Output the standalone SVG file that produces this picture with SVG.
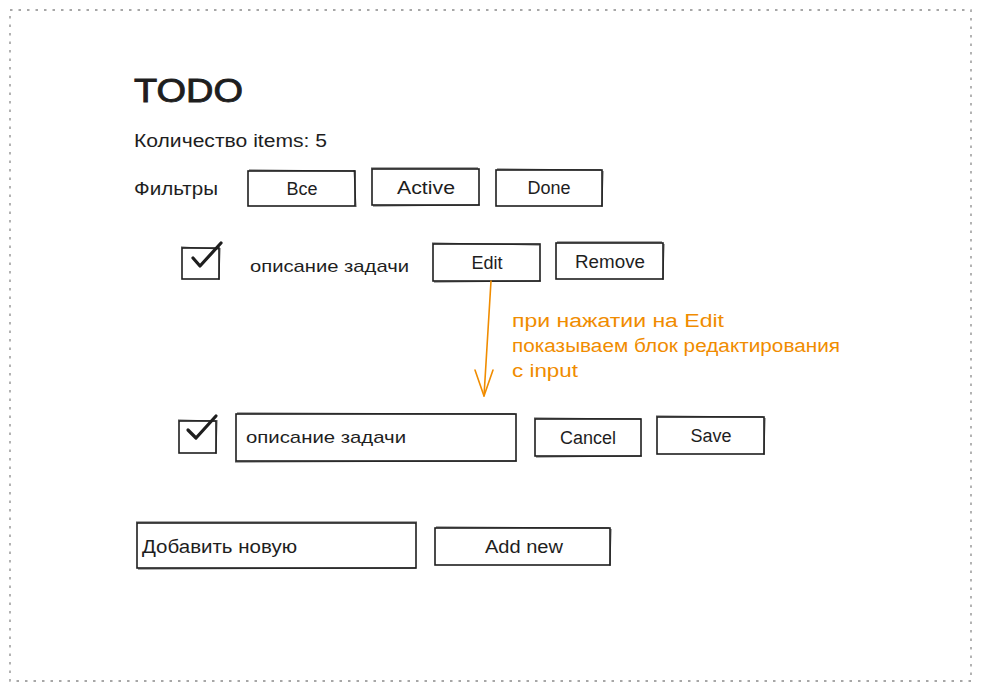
<svg xmlns="http://www.w3.org/2000/svg" width="981" height="691" viewBox="0 0 981 691">
<defs>
<style>
.box{fill:#ffffff;stroke:#1e1e1e;stroke-width:1.6;}
.box2{fill:none;stroke:#1e1e1e;stroke-width:0.8;}
.t{font-family:"Liberation Sans","Noto Sans",sans-serif;fill:#1e1e1e;font-size:18px;}
.c{text-anchor:middle;}
.o{fill:#f08c00;font-size:18px;}
.chk{fill:none;stroke:#1e1e1e;stroke-width:3.2;stroke-linecap:round;stroke-linejoin:round;}
.arr{fill:none;stroke:#f08c00;stroke-width:1.6;stroke-linecap:round;stroke-linejoin:round;}
</style>
</defs>
<rect x="0" y="0" width="981" height="691" fill="#ffffff"/>
<rect x="10" y="10" width="961" height="671" fill="none" stroke="#8a8a8a" stroke-width="1.3" stroke-dasharray="2.5 6"/>

<g id="title"><text class="t" x="134" y="102" style="font-size:33px;stroke:#1e1e1e;stroke-width:0.9" textLength="109" lengthAdjust="spacingAndGlyphs">TODO</text></g>
<g id="count"><text class="t" x="134" y="147" textLength="193" lengthAdjust="spacingAndGlyphs">Количество items: 5</text></g>
<g id="filters-label"><text class="t" x="134" y="195" textLength="84" lengthAdjust="spacingAndGlyphs">Фильтры</text></g>

<g id="btn-all"><rect class="box" x="248" y="171" width="107" height="35"/><path class="box2" d="M249 170 L355 171 M354 170 L356 207"/><text class="t c" x="302" y="195">Все</text></g>
<g id="btn-active"><rect class="box" x="372" y="169" width="107" height="36"/><path class="box2" d="M371 168 L478 168 M373 206 L480 205"/><text class="t c" x="426" y="194" textLength="58" lengthAdjust="spacingAndGlyphs">Active</text></g>
<g id="btn-done"><rect class="box" x="496" y="170" width="106" height="36"/><path class="box2" d="M497 169 L601 170 M603 171 L602 207"/><text class="t c" x="549" y="194">Done</text></g>

<g id="item-checkbox"><rect class="box" x="182" y="248" width="37" height="31"/><path class="box2" d="M181 247 L219 249 M220 248 L219 280"/><path class="chk" d="M193 258 L200 266 L221 243"/></g>
<g id="item-text"><text class="t" x="250" y="272" style="font-size:17px" textLength="159" lengthAdjust="spacingAndGlyphs">описание задачи</text></g>
<g id="btn-edit"><rect class="box" x="433" y="244" width="107" height="37"/><path class="box2" d="M432 243 L539 245 M434 282 L541 281"/><text class="t c" x="487" y="269">Edit</text></g>
<g id="btn-remove"><rect class="box" x="556" y="243" width="107" height="36"/><path class="box2" d="M557 242 L662 242 M664 244 L663 280"/><text class="t c" x="610" y="268" textLength="70" lengthAdjust="spacingAndGlyphs">Remove</text></g>

<g id="connectors">
<path class="arr" d="M491 281 L484 396"/>
<path class="arr" d="M475 370 L484 396 L493 370"/>
</g>
<g id="note"><text class="t o" x="512" y="327" textLength="212" lengthAdjust="spacingAndGlyphs">при нажатии на Edit</text><text class="t o" x="512" y="352" textLength="328" lengthAdjust="spacingAndGlyphs">показываем блок редактирования</text><text class="t o" x="512" y="377" textLength="66" lengthAdjust="spacingAndGlyphs">с input</text></g>

<g id="edit-checkbox"><rect class="box" x="179" y="421" width="37" height="32"/><path class="box2" d="M178 420 L216 421 M217 420 L216 454"/><path class="chk" d="M188 430 L196 438 L216 416"/></g>
<g id="edit-input"><rect class="box" x="236" y="414" width="280" height="47"/><path class="box2" d="M237 413 L515 414 M235 462 L517 461"/><text class="t" x="246" y="443" style="font-size:17px" textLength="160" lengthAdjust="spacingAndGlyphs">описание задачи</text></g>
<g id="btn-cancel"><rect class="box" x="535" y="419" width="106" height="37"/><path class="box2" d="M534 418 L641 419 M536 457 L642 456"/><text class="t c" x="588" y="444" textLength="56" lengthAdjust="spacingAndGlyphs">Cancel</text></g>
<g id="btn-save"><rect class="box" x="657" y="417" width="107" height="37"/><path class="box2" d="M656 416 L763 417 M765 418 L764 455"/><text class="t c" x="711" y="442">Save</text></g>

<g id="add-input"><rect class="box" x="137" y="523" width="279" height="45"/><path class="box2" d="M136 522 L417 522 M138 569 L416 568"/><text class="t" x="142" y="553" textLength="155" lengthAdjust="spacingAndGlyphs">Добавить новую</text></g>
<g id="btn-add"><rect class="box" x="435" y="528" width="175" height="37"/><path class="box2" d="M436 527 L609 528 M611 529 L610 566"/><text class="t c" x="524" y="553" textLength="78" lengthAdjust="spacingAndGlyphs">Add new</text></g>
</svg>
